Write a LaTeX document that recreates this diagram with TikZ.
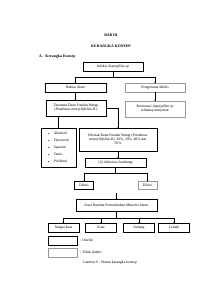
\documentclass[tikz,border=0pt]{standalone}
\usepackage{amssymb}
\usepackage{fontspec}
\setmainfont{Liberation Serif}

\begin{document}
\begin{tikzpicture}[x=1mm,y=-1mm,font=\fontsize{10.5}{12}\selectfont,
  box/.style={draw,line width=1.1pt,align=center,inner sep=1pt,
   minimum width=#1mm},
  box/.default=60,
  tidak/.style={box=#1,draw=black!40},
  tidak/.default=60,
  panah/.style={->,line width=0.8pt}]
 \useasboundingbox (0,0) rectangle (212,300);
 % judul
 \node[font=\fontsize{11}{13}\selectfont\bfseries] (bab) at (111,35) {BAB III};
 \node[font=\fontsize{11}{13}\selectfont\bfseries] (judul) at (111,46) {KERANGKA KONSEP};
 \node[anchor=west,font=\fontsize{11}{13}\selectfont\bfseries] (sub) at (38,57)
  {A.\hspace{2.5mm}Kerangka Konsep};
 % kotak
 \node[box,minimum height=9mm] (infeksi) at (113,66.5) {Infeksi \textit{Aspergillus sp}};
 \node[box=61,minimum height=9mm] (alam) at (75.5,87.5) {Bahan Alam};
 \node[tidak,minimum height=9mm] (medis) at (155,87.5) {Pengobatan Medis};
 \node[box,minimum height=16mm] (tanaman) at (76,108)
  {Tanaman Daun Pandan Wangi\\(\textit{Pandanus amaryllifolius R.})};
 \node[tidak,minimum height=16mm] (resist) at (155,109)
  {Resistensi \textit{Aspergillus sp}\\terhadap antijamur};
 \node[box=78,minimum height=23mm] (ekstrak) at (118,139.5)
  {Ekstrak Daun Pandan Wangi (\textit{Pandanus}\\
   \textit{amaryllifolius R.}) 20\%, 30\%, 40\% dan\\50\%};
 \node[box=35,minimum height=39mm,align=left,
  font=\fontsize{10.5}{20}\selectfont] (senyawa) at (58.5,147.5)
  {{\tiny$\blacktriangleright$}\quad Alkaloid\\
   {\tiny$\blacktriangleright$}\quad Flavonoid\\
   {\tiny$\blacktriangleright$}\quad Saponin\\
   {\tiny$\blacktriangleright$}\quad Tanin\\
   {\tiny$\blacktriangleright$}\quad Polifenol};
 \node[box=61,minimum height=9mm] (uji) at (115.5,162.5) {Uji Aktivitas Antifungi};
 \node[box=19,minimum height=8mm] (difusi) at (84,185.5) {Difusi};
 \node[tidak=19,minimum height=8mm] (dilusi) at (147.5,185.5) {Dilusi};
 \node[box=81,minimum height=12mm] (zona) at (116.5,205.5)
  {Zona Hambat Pertumbuhan Mikroba Jamur};
 \node[box=31,minimum height=9mm] (sangat) at (63.5,227.5) {Sangat kuat};
 \node[box=31,minimum height=9mm] (kuat) at (101,227.5) {Kuat};
 \node[box=31,minimum height=9mm] (sedang) at (139,227.5) {Sedang};
 \node[box=31,minimum height=9mm] (lemah) at (174,227.5) {Lemah};
 \coordinate (zonain) at (116.5,193);
 % panah
 \draw[panah] (infeksi.south) -- ++(0,5.5) -| (alam.north);
 \draw[panah] (infeksi.south) -- ++(0,5.5) -| (medis.north);
 \draw[panah] (alam.south) -- (alam.south|-tanaman.north);
 \draw[panah] (medis.south) -- (medis.south|-resist.north);
 \draw[panah] (tanaman.east) -| (ekstrak.north);
 \draw[panah] (senyawa.north) -- (senyawa.north|-tanaman.south);
 \draw[panah] (ekstrak.south) -- (ekstrak.south|-uji.north);
 \draw[panah] (uji.south) -- ++(0,6) -| (difusi.north);
 \draw[panah] (uji.south) -- ++(0,6) -| (dilusi.north);
 \draw[panah] (zonain) -- (zona.north);
 \foreach \k in {sangat,kuat,sedang,lemah}
  \draw[panah] (zona.south) -- ++(0,6) -| (\k.north);
 % keterangan
 \node[box=29,minimum height=9mm] (ket1) at (62.5,240.5) {};
 \node[anchor=west] (teks1) at (79,240.5) {: Diteliti};
 \node[tidak=29,minimum height=9mm] (ket2) at (62.5,252.5) {};
 \node[anchor=west] (teks2) at (79,252.5) {: Tidak diteliti};
 \node (gambar) at (110,262.5) {Gambar 9 : Skema kerangka konsep};
\end{tikzpicture}
\end{document}
